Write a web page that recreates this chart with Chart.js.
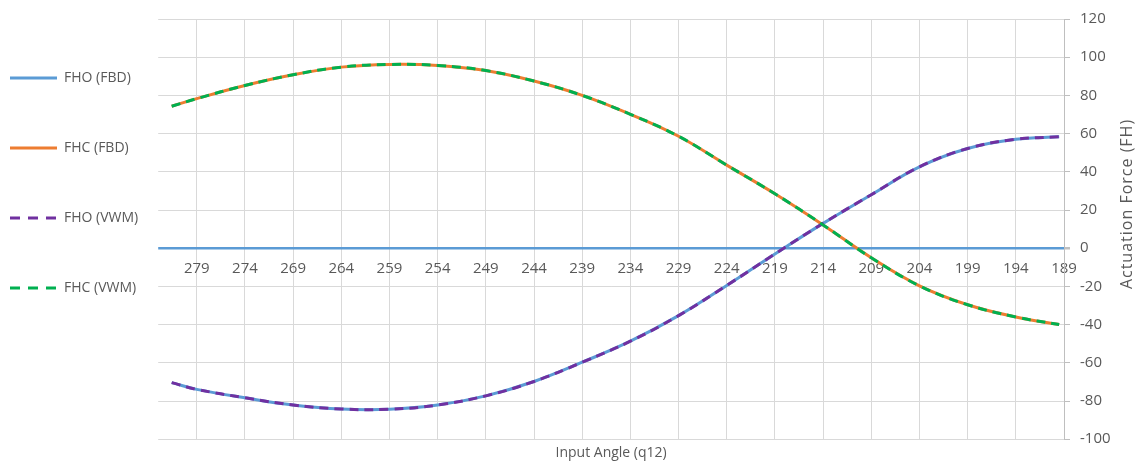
<!DOCTYPE html>
<html>
<head>
<meta charset="utf-8">
<title>Actuation Force vs Input Angle</title>
<script src="https://cdn.jsdelivr.net/npm/chart.js"></script>
<style>
  html, body { margin: 0; padding: 0; background: #fff; }
  #wrap { width: 1141px; height: 465px; }
</style>
</head>
<body>
<div id="wrap"><canvas id="forceChart"></canvas></div>
<script>
// values
const angles = [281.6, 279, 274, 269, 264, 259, 254, 249, 244, 239, 234, 229, 224, 219, 214, 209, 204, 199, 194, 189.5];
const fhoFbd = [-70.4, -73.9, -78.3, -82.1, -84.2, -84.3, -82.1, -77.3, -69.8, -59.7, -48.7, -35.3, -19.5, -3.0, 13.0, 28.0, 42.6, 52.2, 57.0, 58.3];
const fhcFbd = [74.3, 78.3, 85.2, 90.8, 94.8, 96.2, 95.7, 93.0, 87.5, 80.0, 70.1, 58.6, 43.5, 28.5, 12.2, -5.0, -19.7, -29.6, -36.0, -40.0];
const fhoVwm = [-70.4, -73.9, -78.3, -82.1, -84.2, -84.3, -82.1, -77.3, -69.8, -59.7, -48.7, -35.3, -19.5, -3.0, 13.0, 28.0, 42.6, 52.2, 57.0, 58.3];
const fhcVwm = [74.3, 78.3, 85.2, 90.8, 94.8, 96.2, 95.7, 93.0, 87.5, 80.0, 70.1, 58.6, 43.5, 28.5, 12.2, -5.0, -19.7, -29.6, -36.0, -40.0];
const xTicks = [279, 274, 269, 264, 259, 254, 249, 244, 239, 234, 229, 224, 219, 214, 209, 204, 199, 194, 189];

const FONT = "'Open Sans', 'Noto Sans', sans-serif";
const TEXT = '#595959';
const GRID = '#d9d9d9';

const pts = (ys) => angles.map((a, i) => ({ x: a, y: ys[i] }));

function series(label, ys, color, dash, order) {
  return {
    label: label,
    data: pts(ys),
    xAxisID: 'x',
    yAxisID: 'y',
    borderColor: color,
    backgroundColor: color,
    borderWidth: 3,
    borderDash: dash,
    pointRadius: 0,
    tension: 0.4,
    fill: false,
    order: order
  };
}

// empty spacer axes, only there to push the plot area into place
const spacer = (position, size) => ({
  type: 'linear',
  position: position,
  min: 0,
  max: 1,
  grid: { display: false, drawTicks: false },
  border: { display: false },
  ticks: { display: false },
  afterFit: (s) => {
    if (s.isHorizontal()) s.height = size; else s.width = size;
  }
});

// right-hand axis title reads bottom-to-top, so draw it here
const yTitle = {
  id: 'yTitle',
  afterDraw(chart) {
    const c = chart.ctx;
    c.save();
    c.translate(1127, 204);
    c.rotate(-Math.PI / 2);
    c.font = "16px " + FONT;
    if ('letterSpacing' in c) c.letterSpacing = '1px';
    c.fillStyle = TEXT;
    c.textAlign = 'center';
    c.textBaseline = 'middle';
    c.fillText('Actuation Force (FH)', 0, 0);
    c.restore();
  }
};

new Chart(document.getElementById('forceChart'), {
  type: 'line',
  data: {
    datasets: [
      series('FHO (FBD)', fhoFbd, '#5B9BD5', [], 3),
      series('FHC (FBD)', fhcFbd, '#ED7D31', [], 2),
      series('FHO (VWM)', fhoVwm, '#7030A0', [9, 6], 1),
      series('FHC (VWM)', fhcVwm, '#00B050', [9, 6], 0)
    ]
  },
  options: {
    responsive: true,
    maintainAspectRatio: false,
    animation: false,
    layout: { padding: { left: -46, top: 15, right: 0, bottom: 1 } },
    scales: {
      x: {
        type: 'linear',
        reverse: true,
        min: 189,
        max: 283,
        position: { y: 0 },
        afterBuildTicks: (scale) => { scale.ticks = xTicks.map(v => ({ value: v })); },
        grid: { color: GRID, lineWidth: 1, drawTicks: false },
        border: { display: false },
        ticks: { autoSkip: false, maxRotation: 0, padding: 12, color: TEXT, font: { family: FONT, size: 15 } }
      },
      x2: {
        type: 'linear',
        position: 'bottom',
        min: 0,
        max: 1,
        grid: { display: false, drawTicks: false },
        border: { display: false },
        ticks: { display: false },
        title: { display: true, text: 'Input Angle (q12)', color: TEXT, font: { family: FONT, size: 14 }, padding: { top: 5, bottom: 3 } }
      },
      x3: spacer('top', 4),
      y2: spacer('left', 10),
      y: {
        position: 'right',
        min: -100,
        max: 120,
        afterFit: (scale) => { scale.width = 77; },
        ticks: { stepSize: 20, padding: 10, color: TEXT, font: { family: FONT, size: 15 } },
        grid: {
          color: (c) => (c.tick && c.tick.value === 0 ? '#5B9BD5' : GRID),
          lineWidth: (c) => (c.tick && c.tick.value === 0 ? 2.5 : 1),
          tickColor: '#bfbfbf',
          tickLength: 6
        },
        border: { display: true, color: '#bfbfbf', width: 1 }
      }
    },
    plugins: {
      legend: {
        position: 'left',
        align: 'start',
        labels: {
          usePointStyle: true,
          pointStyle: 'line',
          pointStyleWidth: 47,
          padding: 56,
          color: TEXT,
          font: { family: FONT, size: 14 },
          sort: (a, b) => a.datasetIndex - b.datasetIndex,
          generateLabels: (chart) => Chart.defaults.plugins.legend.labels.generateLabels(chart).map((item) => {
            const ds = chart.data.datasets[item.datasetIndex];
            item.strokeStyle = ds.borderColor;
            item.lineWidth = 3;
            item.lineDash = ds.borderDash.length ? [10, 8] : [];
            return item;
          })
        }
      },
      tooltip: { enabled: false }
    }
  },
  plugins: [yTitle]
});
</script>
</body>
</html>
